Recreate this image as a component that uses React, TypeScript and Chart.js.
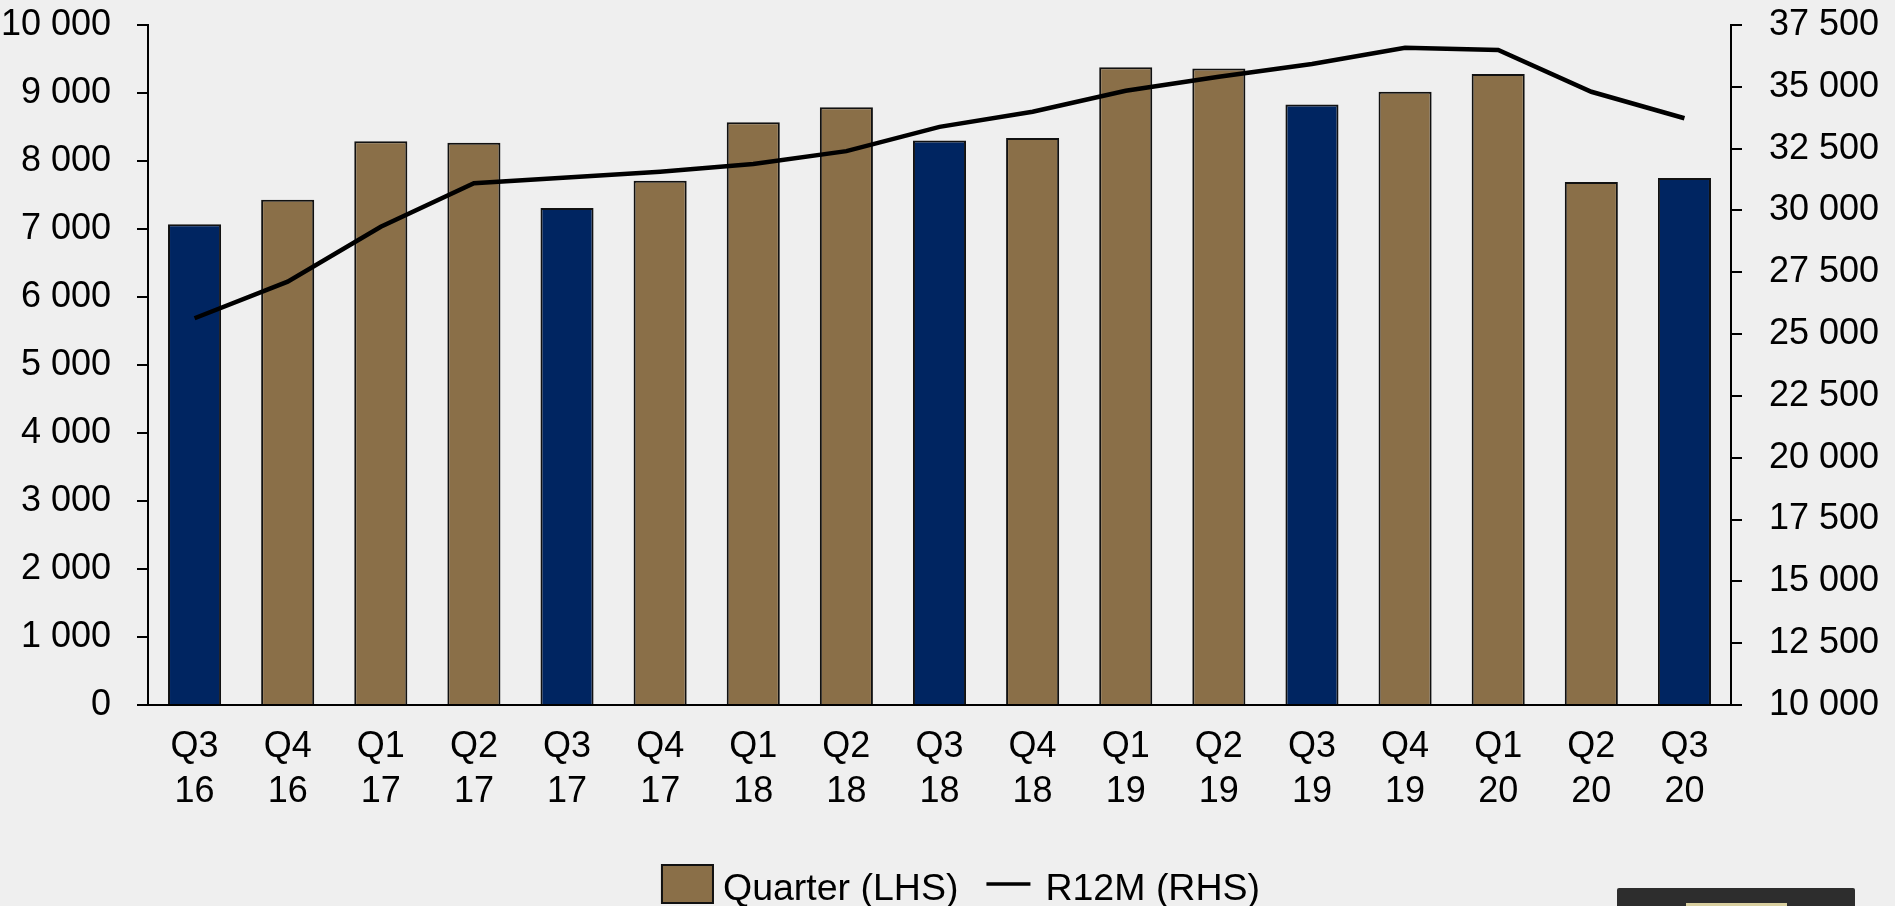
import React, { useEffect, useRef } from "react";
import { Chart, registerables } from "chart.js";

Chart.register(...registerables);

const categories: string[][] = [
  ["Q3", "16"], ["Q4", "16"], ["Q1", "17"], ["Q2", "17"], ["Q3", "17"], ["Q4", "17"],
  ["Q1", "18"], ["Q2", "18"], ["Q3", "18"], ["Q4", "18"], ["Q1", "19"], ["Q2", "19"],
  ["Q3", "19"], ["Q4", "19"], ["Q1", "20"], ["Q2", "20"], ["Q3", "20"],
];

const quarterValues: number[] = [
  7070, 7430, 8290, 8270, 7310, 7710, 8570, 8790, 8300, 8340, 9380, 9360, 8830, 9020, 9280, 7690, 7750,
];

const r12mValues: number[] = [
  25640, 27120, 29340, 31100, 31330, 31570, 31880, 32400, 33380, 33990, 34840, 35410, 35920, 36580, 36490, 34800, 33730,
];

const leftTicks = { min: 0, max: 10000, step: 1000 };
const rightTicks = { min: 10000, max: 37500, step: 2500 };

const legendLabels = ["Quarter (LHS)", "R12M (RHS)"];

const BROWN = "#8A6F48";
const NAVY = "#002561";
const FONT = "'Liberation Sans', Arial, sans-serif";

const fmt = (v: number | string) =>
  Number(v).toString().replace(/\B(?=(\d{3})+(?!\d))/g, " ");

const legendPlugin = {
  id: "customLegend",
  afterDraw(chart: any) {
    const ctx = chart.ctx as CanvasRenderingContext2D;
    ctx.save();
    ctx.font = `37.5px ${FONT}`;
    ctx.fillStyle = "#000";
    ctx.textBaseline = "alphabetic";
    const boxW = 53, boxH = 40, gap1 = 9, gapItems = 28, lineW = 44, gap2 = 15;
    const t1 = ctx.measureText(legendLabels[0]).width;
    const t2 = ctx.measureText(legendLabels[1]).width;
    const total = boxW + gap1 + t1 + gapItems + lineW + gap2 + t2;
    let x = chart.width / 2 + 13 - total / 2;
    const baseline = 900;
    ctx.fillStyle = BROWN;
    ctx.fillRect(x, 864, boxW, boxH);
    ctx.strokeStyle = "#111";
    ctx.lineWidth = 2;
    ctx.strokeRect(x + 1, 865, boxW - 2, boxH - 2);
    x += boxW + gap1;
    ctx.fillStyle = "#000";
    ctx.fillText(legendLabels[0], x, baseline);
    x += t1 + gapItems;
    ctx.strokeStyle = "#000";
    ctx.lineWidth = 3.5;
    ctx.beginPath();
    ctx.moveTo(x, 884);
    ctx.lineTo(x + lineW, 884);
    ctx.stroke();
    x += lineW + gap2;
    ctx.fillText(legendLabels[1], x, baseline);
    ctx.restore();
  },
};

export default function App() {
  const ref = useRef<HTMLCanvasElement | null>(null);

  useEffect(() => {
    if (!ref.current) return;
    const barColors = categories.map((c) => (c[0] === "Q3" ? NAVY : BROWN));
    const tickFont = { family: FONT, size: 36, lineHeight: 1.25 };
    const chart = new Chart(ref.current, {
      type: "bar",
      data: {
        labels: categories,
        datasets: [
          {
            type: "line",
            label: legendLabels[1],
            data: r12mValues,
            yAxisID: "y1",
            borderColor: "#000",
            borderWidth: 4.5,
            pointRadius: 0,
            tension: 0,
            order: 0,
          } as any,
          {
            type: "bar",
            label: legendLabels[0],
            data: quarterValues,
            yAxisID: "y",
            backgroundColor: barColors,
            borderColor: "#111",
            borderWidth: 2,
            categoryPercentage: 1,
            barPercentage: 0.57,
            order: 1,
          } as any,
        ],
      },
      options: {
        responsive: false,
        animation: false,
        devicePixelRatio: 1,
        layout: { padding: { top: 25, left: 0, right: 0, bottom: 0 } },
        plugins: { legend: { display: false }, tooltip: { enabled: false } },
        scales: {
          x: {
            offset: true,
            grid: { display: false, drawTicks: false },
            border: { display: true, color: "#000", width: 2 },
            ticks: { color: "#000", font: tickFont, padding: 20, maxRotation: 0, autoSkip: false },
            afterFit: (s: any) => { s.height = 201; s.paddingLeft = 0; s.paddingRight = 0; },
          },
          y: {
            position: "left",
            min: leftTicks.min,
            max: leftTicks.max,
            grid: { drawOnChartArea: false, drawTicks: true, tickLength: 11, color: "#000", lineWidth: 2 },
            border: { display: true, color: "#000", width: 2 },
            ticks: { stepSize: leftTicks.step, color: "#000", font: tickFont, padding: 26, callback: (v: any) => fmt(v) },
            afterFit: (s: any) => { s.width = 148; s.paddingTop = 0; s.paddingBottom = 0; },
          },
          y1: {
            position: "right",
            min: rightTicks.min,
            max: rightTicks.max,
            grid: { drawOnChartArea: false, drawTicks: true, tickLength: 11, color: "#000", lineWidth: 2 },
            border: { display: true, color: "#000", width: 2 },
            ticks: { stepSize: rightTicks.step, color: "#000", font: tickFont, padding: 27, callback: (v: any) => fmt(v) },
            afterFit: (s: any) => { s.width = 164; s.paddingTop = 0; s.paddingBottom = 0; },
          },
        },
      },
      plugins: [legendPlugin],
    } as any);
    return () => chart.destroy();
  }, []);

  return (
    <div style={{ position: "fixed", left: 0, top: 0, width: 1895, height: 906, background: "#EFEFEF", overflow: "hidden" }}>
      <canvas ref={ref} width={1895} height={906} style={{ display: "block" }} />
      <div style={{ position: "absolute", left: 1617, top: 888, width: 238, height: 30, background: "#2D2D2D", borderRadius: 2 }}>
        <div style={{ position: "absolute", left: 69, top: 15, width: 101, height: 20, background: "#D9CF9F" }} />
      </div>
    </div>
  );
}
